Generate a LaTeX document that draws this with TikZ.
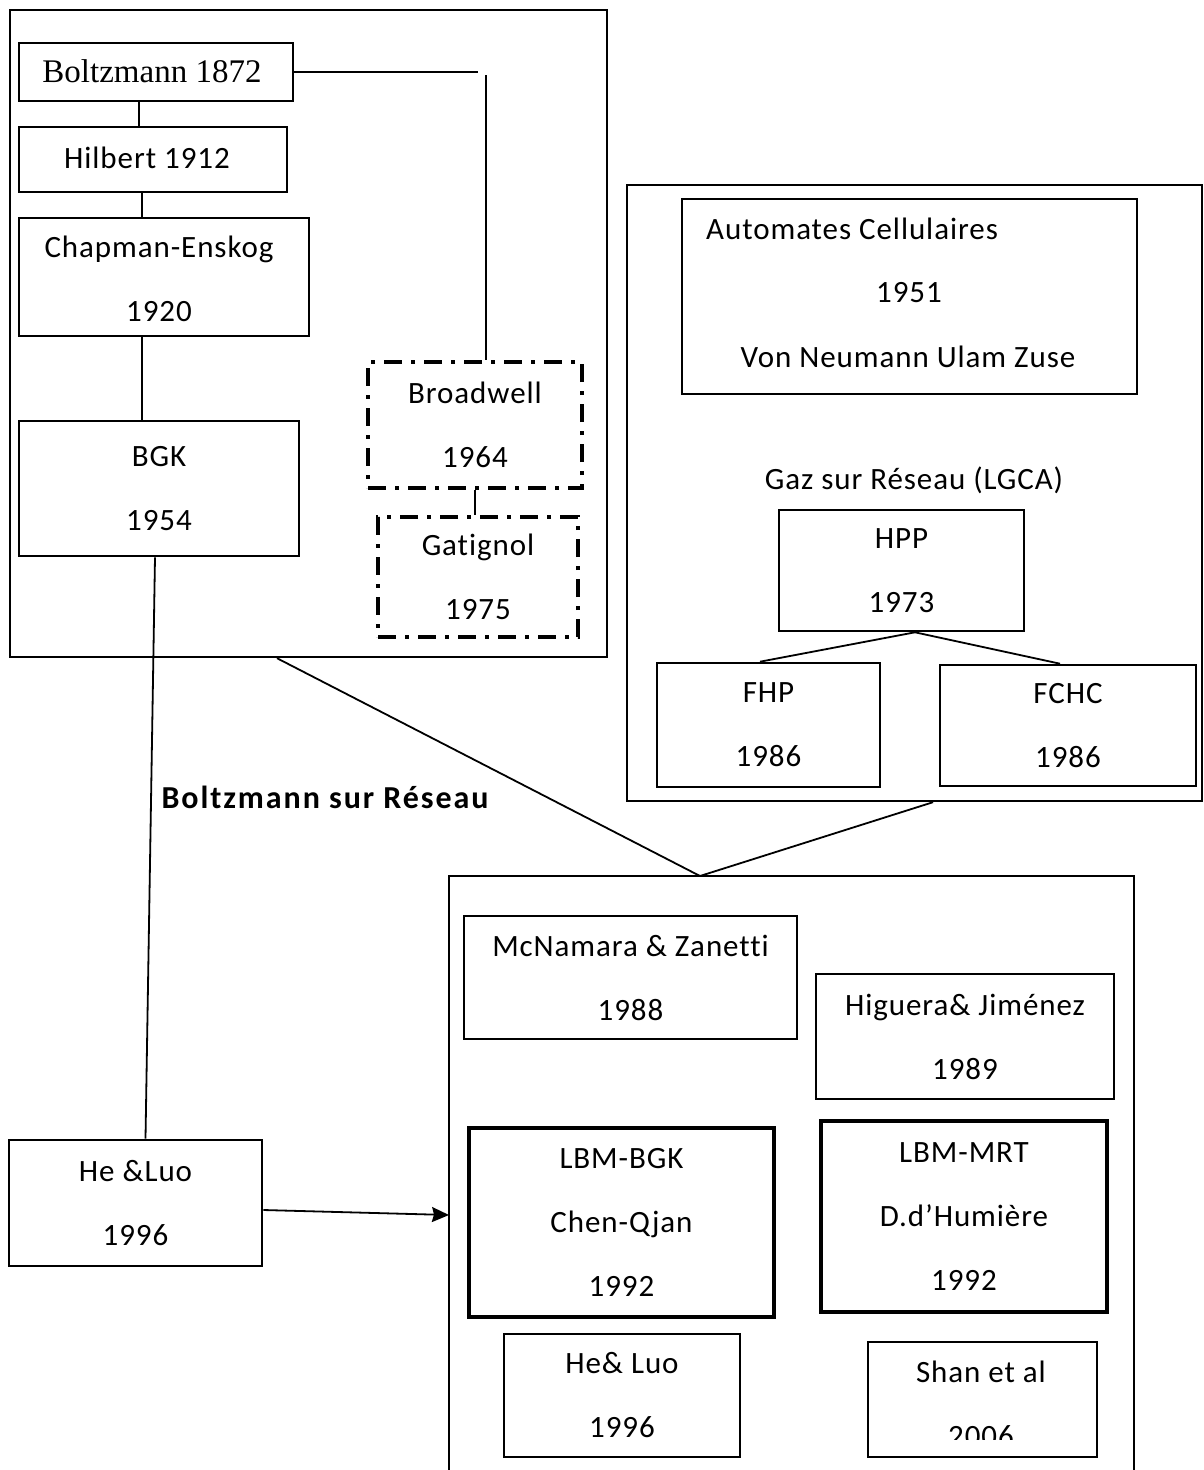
\documentclass[tikz,border=0pt]{standalone}
\usepackage{fontspec}
\setmainfont{Carlito}[LetterSpace=3.0, Ligatures=NoCommon]
\newfontfamily\boldls{Carlito}[LetterSpace=6.0, Ligatures=NoCommon]
\newfontfamily\tnr{Liberation Serif}
\usetikzlibrary{arrows.meta}
\tikzset{
  txt/.style={font=\fontsize{31}{64}\selectfont, align=center, inner sep=0pt},
  box/.style={txt, draw, line width=2.6pt, rectangle},
  thickbox/.style={box, line width=4.4pt},
  dbox/.style={box, line width=3.2pt, dash pattern=on 18pt off 9pt on 4pt off 9pt},
  frame/.style={draw, line width=2.4pt, rectangle, inner sep=0pt},
  conn/.style={line width=1.8pt},
}
\begin{document}
\begin{tikzpicture}[x=1pt,y=-1pt]
\useasboundingbox (0,0) rectangle (1204,1470);
\fill[white] (0,0) rectangle (1204,1470);

% outer frames
\node[frame, minimum width=597pt, minimum height=647pt] (fleft) at (308.5,333.5) {};
\node[frame, minimum width=575pt, minimum height=616pt] (fright) at (914.5,493) {};
\coordinate (btop) at (700,876);
\draw[line width=2.4pt] (449,1485) -- (449,876) -- (1134,876) -- (1134,1485);

% left column
\node[box, minimum width=274pt, minimum height=58pt] (boltz) at (156,72) {};
\node[txt, font=\tnr\fontsize{33}{40}\selectfont] (boltzt) at (152,71) {Boltzmann 1872};
\node[box, minimum width=268pt, minimum height=65pt] (hil) at (153,159.5) {};
\node[txt] (hilt) at (147,158) {Hilbert 1912};
\node[box, minimum width=290pt, minimum height=118pt] (chap) at (164,277) {};
\node[txt] (chapt) at (159,279) {Chapman-Enskog\\1920};
\node[box, minimum width=280pt, minimum height=135pt] (bgk) at (159,488.5) {BGK\\1954};
\node[dbox, minimum width=214pt, minimum height=126pt] (broad) at (475,425) {Broadwell\\1964};
\node[dbox, minimum width=200pt, minimum height=120pt] (gat) at (478,577) {Gatignol\\1975};

\draw[conn] ([xshift=-17pt]boltz.south) -- ([xshift=-14pt]hil.north);
\draw[conn] ([xshift=-11pt]hil.south) -- ([xshift=-22pt]chap.north);
\draw[conn] ([xshift=-22pt]chap.south) -- ([xshift=-17pt]bgk.north);
\coordinate (hend) at (478,72);
\coordinate (vtop) at (486,75);
\draw[conn] (boltz.east) -- (hend);
\draw[conn] (vtop) -- ([xshift=11pt]broad.north);
\draw[conn] (broad.south) -- (broad.south |- gat.north);

% right top
\node[box, minimum width=455pt, minimum height=195pt] (auto) at (909.5,296.5) {};
\node[txt, anchor=west] (autot) at (706,229) {Automates Cellulaires};
\node[txt] (autoy) at (909,293) {1951};
\node[txt] (auton) at (908,357) {Von Neumann Ulam Zuse};
\node[txt] (gaz) at (914,480) {Gaz sur Réseau (LGCA)};
\node[box, minimum width=245pt, minimum height=121pt] (hpp) at (901.5,570.5) {HPP\\1973};
\node[box, minimum width=223pt, minimum height=124pt] (fhp) at (768.5,725) {FHP\\1986};
\node[box, minimum width=256pt, minimum height=121pt] (fchc) at (1068,725.5) {FCHC\\1986};
\draw[conn] ([xshift=13.5pt]hpp.south) -- ([xshift=-8.5pt]fhp.north);
\draw[conn] ([xshift=13.5pt]hpp.south) -- ([xshift=-8pt]fchc.north);

% links to bottom frame
\draw[conn] ([xshift=-31.5pt]fleft.south) -- (btop);
\draw[conn] ([xshift=18.5pt]fright.south) -- (btop);
\node[txt, font=\boldls\bfseries\fontsize{32}{36}\selectfont] (bsr) at (325,797) {Boltzmann sur Réseau};

% He & Luo left
\node[box, minimum width=253pt, minimum height=126pt] (heluoA) at (135.5,1203) {He \&Luo\\1996};
\draw[conn] ([xshift=-4pt]bgk.south) -- ([xshift=10pt]heluoA.north);
\coordinate (arrend) at (449,1215);
\draw[conn, -{Stealth[length=17pt,width=15pt,inset=2pt]}] ([yshift=-7pt]heluoA.east) -- (arrend);

% bottom frame contents
\node[box, minimum width=333pt, minimum height=123pt] (mcn) at (630.5,977.5) {McNamara \& Zanetti\\1988};
\node[box, minimum width=298pt, minimum height=125pt] (hig) at (965,1036.5) {Higuera\& Jiménez\\1989};
\node[thickbox, minimum width=305pt, minimum height=189pt] (lbmbgk) at (621.5,1222.5) {LBM-BGK\\Chen-Qjan\\1992};
\node[thickbox, minimum width=286pt, minimum height=191pt] (lbmmrt) at (964,1216.5) {LBM-MRT\\D.d’Humière\\1992};
\node[box, minimum width=236pt, minimum height=123pt] (heluoB) at (622,1395.5) {He\& Luo\\1996};
\node[box, minimum width=229pt, minimum height=115pt] (shan) at (982.5,1399.5) {};
\begin{scope}
\clip (860,1340) rectangle (1100,1439);
\node[txt] (shant) at (981,1404) {Shan et al\\2006};
\end{scope}
\end{tikzpicture}
\end{document}
